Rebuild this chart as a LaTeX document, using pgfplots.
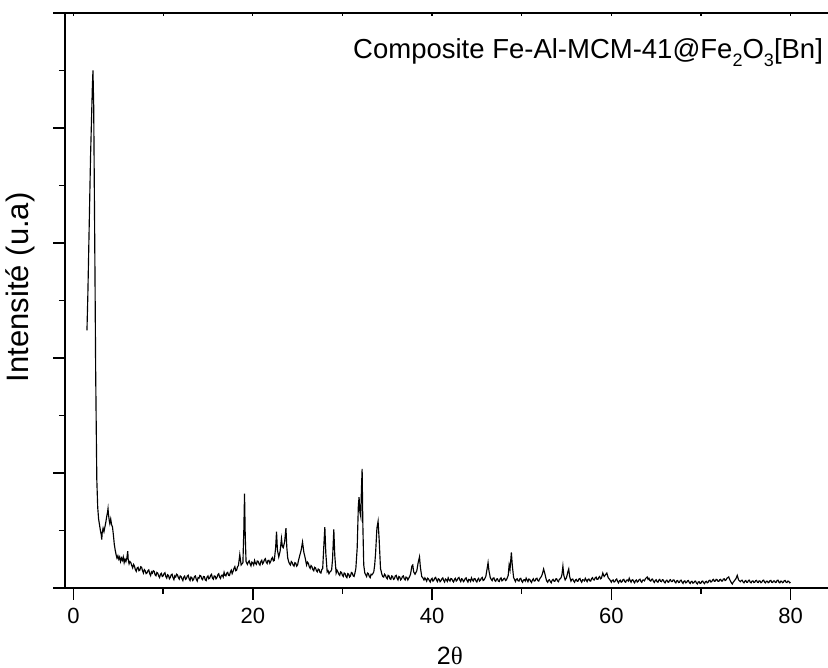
\documentclass[border=0pt]{standalone}
\usepackage{pgfplots}
\pgfplotsset{compat=1.18}
\usepackage{fontspec}
\setmainfont{Liberation Sans}
\newfontfamily\serifgr{Liberation Serif}
\begin{document}
\begin{tikzpicture}
\begin{axis}[
  at={(65pt,80pt)}, anchor=south west,
  width=765pt, height=575pt, scale only axis,
  xmin=-0.95, xmax=84.4, ymin=0, ymax=5,
  axis line style={line width=1.5pt},
  xtick={0,20,40,60,80}, minor xtick={10,30,50,70},
  ytick={0,1,2,3,4,5}, minor ytick={0.5,1.5,2.5,3.5,4.5},
  yticklabels={},
  xtick pos=left, ytick pos=left,
  tick align=outside,
  major tick length=12pt, minor tick length=6pt,
  every tick/.style={line width=1.5pt, black},
  /pgf/number format/assume math mode=true,
  xticklabel style={font=\fontsize{22}{24}\selectfont, yshift=-5pt},
  xlabel={\fontsize{25}{27}\selectfont 2{\serifgr\fontsize{25}{27}\selectfont θ}},
  xlabel style={at={(axis description cs:0.503,-0.1322)}, anchor=base, inner sep=0pt},
  ylabel={\fontsize{31}{33}\selectfont Intensité (u.a)},
  ylabel style={at={(axis description cs:-0.0588,0.523)}, anchor=center},
  clip=true,
]
\addplot[black, line width=1.15pt] coordinates {
(1.50,2.24)(1.60,2.55)(1.70,2.95)(1.80,3.35)(1.90,3.75)(2.00,4.05)(2.10,4.35)(2.17,4.50)(2.25,4.20)(2.32,3.50)(2.40,2.68)(2.47,1.90)(2.53,1.44)(2.60,0.94)(2.70,0.70)(2.80,0.60)(2.90,0.55)(3.00,0.50)(3.10,0.46)(3.15,0.42)(3.20,0.48)(3.30,0.52)(3.40,0.49)(3.50,0.53)(3.60,0.57)(3.70,0.62)(3.80,0.66)(3.85,0.69)(3.90,0.64)(4.00,0.58)(4.05,0.56)(4.15,0.60)(4.25,0.55)(4.35,0.53)(4.45,0.46)(4.55,0.38)(4.65,0.33)(4.75,0.29)(4.85,0.26)(4.95,0.28)(5.05,0.25)(5.15,0.27)(5.25,0.23)(5.35,0.26)(5.45,0.24)(5.55,0.27)(5.65,0.22)(5.75,0.25)(5.85,0.23)(5.95,0.26)(6.05,0.32)(6.10,0.25)(6.20,0.21)(6.30,0.23)
(6.4,0.220)(6.5,0.195)(6.6,0.175)(6.7,0.205)(6.8,0.190)(6.9,0.160)(7.0,0.145)(7.1,0.175)(7.2,0.180)(7.3,0.150)(7.4,0.155)(7.5,0.185)(7.6,0.180)(7.7,0.150)(7.8,0.130)(7.9,0.160)(8.0,0.150)(8.1,0.125)(8.2,0.131)(8.3,0.150)(8.4,0.157)(8.5,0.125)(8.6,0.108)(8.7,0.140)(8.8,0.129)(8.9,0.150)(9.0,0.145)(9.1,0.115)(9.2,0.107)(9.3,0.135)(9.4,0.129)(9.5,0.105)(9.6,0.091)(9.7,0.120)(9.8,0.128)(9.9,0.100)(10.0,0.105)(10.1,0.125)(10.2,0.133)(10.3,0.100)(10.4,0.086)(10.5,0.115)(10.6,0.109)(10.7,0.080)(10.8,0.092)(10.9,0.115)(11.0,0.120)(11.1,0.090)(11.2,0.073)(11.3,0.105)(11.4,0.096)(11.5,0.120)(11.6,0.114)(11.7,0.090)(11.8,0.077)(11.9,0.105)(12.0,0.100)(12.1,0.080)(12.2,0.064)(12.3,0.095)(12.4,0.103)(12.5,0.075)(12.6,0.082)(12.7,0.105)(12.8,0.111)(12.9,0.080)(13.0,0.065)(13.1,0.095)(13.2,0.090)(13.3,0.065)(13.4,0.075)(13.5,0.100)(13.6,0.105)(13.7,0.075)(13.8,0.060)(13.9,0.090)(14.0,0.085)(14.1,0.110)(14.2,0.106)(14.3,0.080)(14.4,0.072)(14.5,0.100)(14.6,0.098)(14.7,0.070)(14.8,0.064)(14.9,0.095)(15.0,0.105)(15.1,0.080)(15.2,0.087)(15.3,0.110)(15.4,0.119)(15.5,0.085)(15.6,0.076)(15.7,0.105)(15.8,0.103)(15.9,0.080)(16.0,0.090)(16.1,0.115)(16.2,0.124)(16.3,0.095)(16.4,0.083)(16.5,0.110)(16.6,0.112)(16.7,0.095)(16.8,0.136)(16.9,0.110)(17.0,0.105)(17.1,0.130)(17.2,0.136)(17.3,0.110)(17.4,0.108)(17.5,0.140)(17.6,0.155)(17.7,0.125)(17.8,0.145)(17.9,0.170)(18.0,0.185)(18.1,0.150)(18.2,0.155)(18.3,0.185)(18.4,0.195)(18.55,0.29)(18.7,0.20)(18.9,0.22)(19.0,0.50)(19.08,0.82)(19.16,0.45)(19.25,0.23)
(19.4,0.205)(19.5,0.225)(19.6,0.236)(19.7,0.210)(19.8,0.192)(19.9,0.225)(20.0,0.218)(20.1,0.200)(20.2,0.239)(20.3,0.215)(20.4,0.205)(20.5,0.235)(20.6,0.232)(20.7,0.210)(20.8,0.199)(20.9,0.230)(21.0,0.241)(21.1,0.210)(21.2,0.223)(21.3,0.245)(21.4,0.255)(21.5,0.225)(21.6,0.213)(21.7,0.240)(21.8,0.241)(21.9,0.215)(22.0,0.230)(22.1,0.255)(22.2,0.265)(22.3,0.235)(22.4,0.24)(22.55,0.35)(22.65,0.49)(22.75,0.33)(22.9,0.27)(23.05,0.32)(23.2,0.43)(23.3,0.36)(23.4,0.35)(23.55,0.40)(23.7,0.52)(23.8,0.35)(23.9,0.26)(24.0,0.23)(24.1,0.21)(24.2,0.20)(24.3,0.23)(24.4,0.22)(24.5,0.20)(24.6,0.19)(24.7,0.22)(24.8,0.215)(24.9,0.19)(25.0,0.20)(25.1,0.24)(25.2,0.27)(25.3,0.30)(25.4,0.33)(25.55,0.40)(25.7,0.31)(25.85,0.26)(26.0,0.20)(26.1,0.225)(26.2,0.215)(26.3,0.185)(26.4,0.17)(26.5,0.195)(26.6,0.185)(26.7,0.160)(26.8,0.15)(26.9,0.18)(27.0,0.175)(27.1,0.150)(27.2,0.14)(27.3,0.165)(27.4,0.16)(27.5,0.135)(27.6,0.13)(27.7,0.16)(27.8,0.17)(27.95,0.40)(28.04,0.53)(28.15,0.30)(28.3,0.14)(28.4,0.15)(28.5,0.125)(28.6,0.14)(28.7,0.145)(28.8,0.16)(28.9,0.25)(29.04,0.51)(29.15,0.28)(29.3,0.13)(29.4,0.155)(29.5,0.14)(29.6,0.12)(29.7,0.11)(29.8,0.14)(29.9,0.135)(30.0,0.11)(30.1,0.10)(30.2,0.13)(30.3,0.125)(30.4,0.10)(30.5,0.09)(30.6,0.125)(30.7,0.12)(30.8,0.095)(30.9,0.105)(31.0,0.135)(31.1,0.13)(31.2,0.105)(31.3,0.10)(31.4,0.13)(31.5,0.17)(31.65,0.35)(31.78,0.72)(31.86,0.79)(31.95,0.66)(32.05,0.62)(32.12,0.85)(32.2,1.035)(32.28,0.55)(32.38,0.20)(32.5,0.13)(32.6,0.115)(32.7,0.10)(32.8,0.13)(32.9,0.125)(33.0,0.10)(33.1,0.09)(33.2,0.12)(33.3,0.115)(33.4,0.125)(33.5,0.14)(33.6,0.20)(33.7,0.30)(33.85,0.52)(33.98,0.58)(34.1,0.42)(34.25,0.17)(34.4,0.12)(34.5,0.10)(34.6,0.095)(34.7,0.12)(34.8,0.11)(34.9,0.09)(35.0,0.08)(35.1,0.11)(35.2,0.105)(35.3,0.08)(35.4,0.075)(35.5,0.105)(35.6,0.10)(35.7,0.075)(35.8,0.08)(35.9,0.105)(36.0,0.11)(36.1,0.085)(36.2,0.07)(36.3,0.10)(36.4,0.095)(36.5,0.07)(36.6,0.08)(36.7,0.10)(36.8,0.105)(36.9,0.08)(37.0,0.07)(37.1,0.095)(37.2,0.09)(37.3,0.07)(37.4,0.085)(37.5,0.10)(37.6,0.12)(37.75,0.19)(37.85,0.20)(37.95,0.14)(38.1,0.12)(38.2,0.135)(38.3,0.15)(38.45,0.22)(38.6,0.27)(38.7,0.18)(38.85,0.10)(39.0,0.085)
(39.1,0.070)(39.2,0.088)(39.3,0.075)(39.4,0.060)(39.5,0.085)(39.6,0.080)(39.7,0.065)(39.8,0.052)(39.9,0.075)(40.0,0.084)(40.1,0.060)(40.2,0.068)(40.3,0.085)(40.4,0.092)(40.5,0.070)(40.6,0.056)(40.7,0.080)(40.8,0.076)(40.9,0.055)(41.0,0.064)(41.1,0.080)(41.2,0.088)(41.3,0.065)(41.4,0.052)(41.5,0.078)(41.6,0.072)(41.7,0.058)(41.8,0.088)(41.9,0.070)(42.0,0.060)(42.1,0.082)(42.2,0.080)(42.3,0.062)(42.4,0.052)(42.5,0.075)(42.6,0.084)(42.7,0.060)(42.8,0.068)(42.9,0.085)(43.0,0.092)(43.1,0.070)(43.2,0.056)(43.3,0.080)(43.4,0.076)(43.5,0.055)(43.6,0.064)(43.7,0.082)(43.8,0.088)(43.9,0.065)(44.0,0.052)(44.1,0.075)(44.2,0.072)(44.3,0.058)(44.4,0.088)(44.5,0.070)(44.6,0.060)(44.7,0.082)(44.8,0.080)(44.9,0.062)(45.0,0.052)(45.1,0.075)(45.2,0.084)(45.3,0.060)(45.4,0.068)(45.5,0.085)(45.6,0.092)(45.7,0.065)(45.8,0.070)(45.9,0.085)(46.0,0.10)(46.15,0.17)(46.25,0.22)(46.35,0.15)(46.5,0.09)(46.6,0.075)(46.7,0.064)(46.8,0.085)(46.9,0.088)(47.0,0.065)(47.1,0.058)(47.2,0.078)(47.3,0.080)(47.4,0.060)(47.5,0.056)(47.6,0.080)(47.7,0.088)(47.8,0.062)(47.9,0.068)(48.0,0.082)(48.1,0.085)(48.2,0.065)(48.3,0.07)(48.4,0.09)(48.5,0.11)(48.6,0.20)(48.7,0.16)(48.85,0.31)(48.95,0.20)(49.1,0.09)(49.2,0.075)(49.3,0.056)(49.4,0.075)(49.5,0.080)(49.6,0.062)(49.7,0.060)(49.8,0.080)(49.9,0.084)(50.0,0.060)(50.1,0.050)(50.2,0.070)(50.3,0.072)(50.4,0.060)(50.5,0.086)(50.6,0.070)(50.7,0.055)(50.8,0.078)(50.9,0.075)(51.0,0.058)(51.1,0.048)(51.2,0.070)(51.3,0.080)(51.4,0.060)(51.5,0.062)(51.6,0.082)(51.7,0.085)(51.8,0.065)(51.9,0.06)(52.0,0.078)(52.1,0.09)(52.2,0.10)(52.3,0.12)(52.45,0.165)(52.6,0.12)(52.75,0.07)(52.8,0.06)(52.9,0.05)(53.0,0.068)(53.1,0.072)(53.2,0.055)(53.3,0.045)(53.4,0.068)(53.5,0.075)(53.6,0.060)(53.7,0.058)(53.8,0.078)(53.9,0.08)(54.0,0.062)(54.1,0.055)(54.2,0.075)(54.3,0.08)(54.4,0.09)(54.5,0.12)(54.6,0.19)(54.7,0.11)(54.85,0.07)(55.0,0.09)(55.15,0.14)(55.25,0.165)(55.35,0.10)(55.5,0.06)(55.6,0.075)(55.7,0.078)(55.8,0.060)(55.9,0.05)(56.0,0.07)(56.1,0.075)(56.2,0.058)(56.3,0.06)(56.4,0.080)(56.5,0.083)(56.6,0.062)(56.7,0.05)(56.8,0.072)(56.9,0.07)(57.0,0.062)(57.1,0.085)(57.2,0.070)(57.3,0.055)(57.4,0.075)(57.5,0.078)(57.6,0.062)(57.7,0.06)(57.8,0.082)(57.9,0.09)(58.0,0.072)(58.1,0.07)(58.2,0.088)(58.3,0.095)(58.4,0.075)(58.5,0.075)(58.6,0.092)(58.7,0.10)(58.8,0.080)(58.9,0.085)(59.05,0.13)(59.2,0.10)(59.35,0.115)(59.5,0.13)(59.65,0.09)(59.8,0.075)(59.9,0.065)
(60.0,0.05)(60.1,0.065)(60.2,0.07)(60.3,0.052)(60.4,0.055)(60.5,0.072)(60.6,0.078)(60.7,0.058)(60.8,0.045)(60.9,0.062)(61.0,0.068)(61.1,0.050)(61.2,0.055)(61.3,0.072)(61.4,0.075)(61.5,0.055)(61.6,0.05)(61.7,0.068)(61.8,0.07)(61.9,0.060)(62.0,0.085)(62.1,0.065)(62.2,0.05)(62.3,0.068)(62.4,0.072)(62.5,0.055)(62.6,0.045)(62.7,0.065)(62.8,0.07)(62.9,0.052)(63.0,0.058)(63.1,0.072)(63.2,0.076)(63.3,0.058)(63.4,0.05)(63.5,0.068)(63.6,0.07)(63.7,0.062)(63.8,0.08)(63.9,0.088)(64.0,0.096)(64.1,0.075)(64.2,0.085)(64.3,0.065)(64.4,0.06)(64.5,0.075)(64.6,0.078)(64.7,0.058)(64.8,0.048)(64.9,0.065)(65.0,0.072)(65.1,0.055)(65.2,0.05)(65.3,0.068)(65.4,0.075)(65.5,0.058)(65.6,0.055)(65.7,0.072)(65.8,0.07)(65.9,0.052)(66.0,0.045)(66.1,0.062)(66.2,0.068)(66.3,0.052)(66.4,0.05)(66.5,0.068)(66.6,0.072)(66.7,0.055)(66.8,0.055)(66.9,0.070)(67.0,0.07)(67.1,0.052)(67.2,0.045)(67.3,0.062)(67.4,0.065)(67.5,0.048)(67.6,0.05)(67.7,0.066)(67.8,0.068)(67.9,0.050)(68.0,0.04)(68.1,0.058)(68.2,0.062)(68.3,0.045)(68.4,0.048)(68.5,0.062)(68.6,0.065)(68.7,0.048)(68.8,0.04)(68.9,0.055)(69.0,0.058)(69.1,0.042)(69.2,0.045)(69.3,0.058)(69.4,0.06)(69.5,0.042)(69.6,0.035)(69.7,0.052)(69.8,0.055)(69.9,0.040)(70.0,0.042)(70.1,0.058)(70.2,0.06)(70.3,0.045)(70.4,0.038)(70.5,0.055)(70.6,0.058)(70.7,0.045)(70.8,0.05)(70.9,0.065)(71.0,0.068)(71.1,0.052)(71.2,0.055)(71.3,0.070)(71.4,0.075)(71.5,0.058)(71.6,0.06)(71.7,0.075)(71.8,0.072)(71.9,0.058)(72.0,0.058)(72.1,0.072)(72.2,0.075)(72.3,0.060)(72.4,0.06)(72.5,0.078)(72.6,0.08)(72.7,0.065)(72.8,0.07)(72.9,0.085)(73.0,0.09)(73.1,0.096)(73.2,0.075)(73.3,0.06)(73.4,0.045)(73.5,0.035)(73.6,0.050)(73.7,0.06)(73.8,0.070)(73.9,0.08)(74.05,0.11)(74.2,0.07)(74.3,0.062)(74.4,0.055)(74.5,0.065)(74.6,0.068)(74.7,0.052)(74.8,0.045)(74.9,0.060)(75.0,0.065)(75.1,0.050)(75.2,0.05)(75.3,0.066)(75.4,0.068)(75.5,0.050)(75.6,0.045)(75.7,0.060)(75.8,0.062)(75.9,0.048)(76.0,0.05)(76.1,0.064)(76.2,0.066)(76.3,0.050)(76.4,0.048)(76.5,0.062)(76.6,0.06)(76.7,0.046)(76.8,0.052)(76.9,0.066)(77.0,0.068)(77.1,0.050)(77.2,0.045)(77.3,0.060)(77.4,0.06)(77.5,0.046)(77.6,0.05)(77.7,0.064)(77.8,0.066)(77.9,0.050)(78.0,0.048)(78.1,0.062)(78.2,0.062)(78.3,0.048)(78.4,0.05)(78.5,0.066)(78.6,0.068)(78.7,0.050)(78.8,0.045)(78.9,0.060)(79.0,0.06)(79.1,0.046)(79.2,0.05)(79.3,0.064)(79.4,0.065)(79.5,0.050)(79.6,0.048)(79.7,0.060)(79.8,0.058)(79.9,0.045)(80.0,0.05)
};
\node[anchor=base east, font=\fontsize{27.5}{30}\selectfont, inner sep=0pt] at (axis description cs:0.991,0.9217) {Composite Fe-Al-MCM-41@Fe\raisebox{-0.3em}{\fontsize{18}{20}\selectfont 2}O\raisebox{-0.3em}{\fontsize{18}{20}\selectfont 3}[Bn]};
\end{axis}
\begin{axis}[
  at={(65pt,80pt)}, anchor=south west,
  width=765pt, height=575pt, scale only axis,
  xmin=-0.95, xmax=84.4, ymin=0, ymax=5,
  axis line style={draw=none},
  xtick={0,10,20,30,40,50,60,70,80}, xticklabels={},
  xtick pos=right, tick align=inside,
  major tick length=3pt,
  every tick/.style={line width=1.2pt, black},
  ytick=\empty,
]
\end{axis}
\pgfresetboundingbox
\path[use as bounding box] (0pt,0pt) rectangle (828pt,668pt);
\end{tikzpicture}
\end{document}
